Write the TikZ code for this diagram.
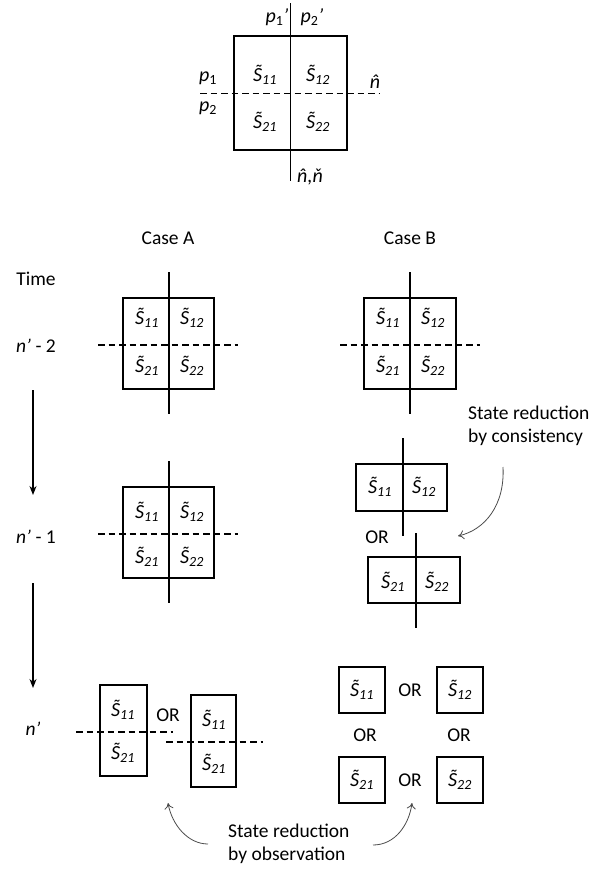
\documentclass[tikz,border=0pt]{standalone}
\usepackage{fontspec}
\setmainfont{Carlito}
\usetikzlibrary{arrows.meta}
\newcommand\St[1]{\textit{\accent"02DC S}\textsubscript{\textit{#1}}}
\newcommand\nhat{\textit{\accent"02C6 n}}
\newcommand\ncheck{\textit{\accent"02C7 n}}
\begin{document}
\begin{tikzpicture}[x=1pt,y=-1pt,
  boxline/.style={line width=1.3pt},
  vline/.style={line width=1.3pt},
  dline/.style={line width=1.3pt, dash pattern=on 6.5pt off 4pt},
  lbl/.style={inner sep=0pt, font=\fontsize{20}{23}\selectfont},
  txt/.style={inner sep=0pt, font=\fontsize{19.5}{23}\selectfont},
  curv/.style={draw=black!70, line width=0.8pt, -{To[length=6pt,width=9pt]}},
  tarr/.style={line width=1.3pt, -{Stealth[length=9pt,width=7pt]}}]
\useasboundingbox (0,0) rectangle (592,871);
% ---- top legend ----
\draw[boxline] (234,36) rectangle (347,150);
\draw[vline] (290.5,3) -- (290.5,181);
\draw[dline] (200,93.5) -- (380,93.5);
\node[lbl] (t11) at (265,75) {\St{11}};
\node[lbl] (t12) at (318,75) {\St{12}};
\node[lbl] (t21) at (265,122) {\St{21}};
\node[lbl] (t22) at (318,122) {\St{22}};
\node[lbl] (p1p) at (277,17) {\textit{p}\textsubscript{1}\textit{’}};
\node[lbl] (p2p) at (312,17) {\textit{p}\textsubscript{2}\textit{’}};
\node[lbl] (p1) at (208,78) {\textit{p}\textsubscript{1}};
\node[lbl] (p2) at (208,108) {\textit{p}\textsubscript{2}};
\node[lbl] (nh) at (375,82) {\nhat};
\node[lbl] (nhc) at (310,177) {\nhat\textit{,}\ncheck};
% ---- headings ----
\node[txt] (caseA) at (168,238) {Case A};
\node[txt] (caseB) at (410,238) {Case B};
\node[txt] (time) at (36,279) {Time};
\node[txt] (n2) at (36,346) {\textit{n’} - 2};
\node[txt] (n1) at (36,537) {\textit{n’} - 1};
\node[txt] (n0) at (33,729) {\textit{n’}};
\coordinate (a1s) at (33,390); \coordinate (a1e) at (33,495);
\coordinate (a2s) at (33,583); \coordinate (a2e) at (33,688);
\draw[tarr] (a1s) -- (a1e);
\draw[tarr] (a2s) -- (a2e);
% ---- Case A, n'-2 ----
\draw[boxline] (123,298) rectangle (214,389);
\draw[vline] (169,272) -- (169,414);
\draw[dline] (98,345) -- (238,345);
\node[lbl] (a11) at (147,318) {\St{11}};
\node[lbl] (a12) at (192,318) {\St{12}};
\node[lbl] (a21) at (147,366) {\St{21}};
\node[lbl] (a22) at (192,366) {\St{22}};
% ---- Case B, n'-2 ----
\draw[boxline] (364,298) rectangle (456,389);
\draw[vline] (410,272) -- (410,414);
\draw[dline] (340,345) -- (480,345);
\node[lbl] (b11) at (388,318) {\St{11}};
\node[lbl] (b12) at (433,318) {\St{12}};
\node[lbl] (b21) at (388,366) {\St{21}};
\node[lbl] (b22) at (433,366) {\St{22}};
% ---- Case A, n'-1 ----
\draw[boxline] (123,487) rectangle (214,578);
\draw[vline] (169,461) -- (169,603);
\draw[dline] (98,534) -- (238,534);
\node[lbl] (c11) at (147,512) {\St{11}};
\node[lbl] (c12) at (192,512) {\St{12}};
\node[lbl] (c21) at (147,557) {\St{21}};
\node[lbl] (c22) at (192,557) {\St{22}};
% ---- Case B, n'-1 ----
\draw[boxline] (356,464) rectangle (447,511);
\draw[vline] (403,438) -- (403,536);
\node[lbl] (d11) at (380,487) {\St{11}};
\node[lbl] (d12) at (424,487) {\St{12}};
\node[txt] (dor) at (377,537) {OR};
\draw[boxline] (368,557) rectangle (460,603);
\draw[vline] (416,533) -- (416,628);
\node[lbl] (d21) at (393,582) {\St{21}};
\node[lbl] (d22) at (437,582) {\St{22}};
\node[txt, anchor=west, align=left] (cons) at (468,426) {State reduction\\by consistency};
\coordinate (cs) at (503,467); \coordinate (ce) at (458,536);
\draw[curv] (cs) .. controls (505,505) and (485,530) .. (ce);
% ---- Case A, n' ----
\draw[boxline] (100,685) rectangle (147,776);
\draw[dline] (76,732) -- (173,732);
\node[lbl] (e11) at (123,710) {\St{11}};
\node[lbl] (e21) at (123,753) {\St{21}};
\node[txt] (eor) at (168,715) {OR};
\draw[boxline] (191,695) rectangle (236,787);
\draw[dline] (166,742) -- (263,742);
\node[lbl] (f11) at (214,720) {\St{11}};
\node[lbl] (f21) at (214,764) {\St{21}};
% ---- Case B, n' ----
\draw[boxline] (339,667) rectangle (385,713);
\draw[boxline] (437,667) rectangle (483,713);
\draw[boxline] (339,757) rectangle (385,803);
\draw[boxline] (437,757) rectangle (483,803);
\node[lbl] (g11) at (362,690) {\St{11}};
\node[lbl] (g12) at (460,690) {\St{12}};
\node[lbl] (g21) at (362,780) {\St{21}};
\node[lbl] (g22) at (460,780) {\St{22}};
\node[txt] (or1) at (410,690) {OR};
\node[txt] (or2) at (365,735) {OR};
\node[txt] (or3) at (459,735) {OR};
\node[txt] (or4) at (410,780) {OR};
% ---- observation ----
\node[txt, anchor=west, align=left] (obs) at (228,844) {State reduction\\by observation};
\coordinate (os1) at (208,844); \coordinate (oe1) at (168,803);
\coordinate (os2) at (373,845); \coordinate (oe2) at (412,803);
\draw[curv] (os1) .. controls (188,844) and (172,825) .. (oe1);
\draw[curv] (os2) .. controls (395,845) and (409,825) .. (oe2);
\end{tikzpicture}
\end{document}
